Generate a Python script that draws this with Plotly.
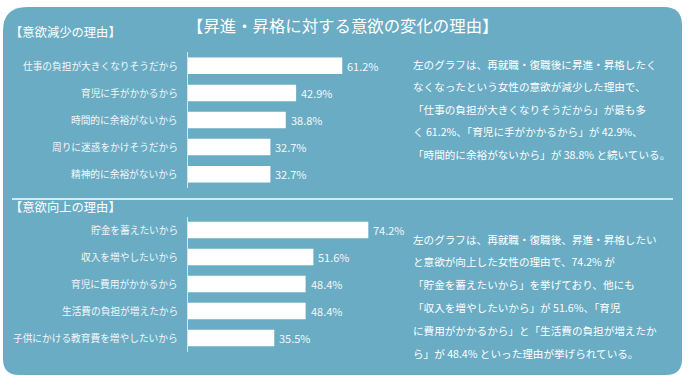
import plotly.graph_objects as go

W, H = 690, 386

# ---------------- data ----------------
title_text = "【昇進・昇格に対する意欲の変化の理由】"
dec_section = "【意欲減少の理由】"
inc_section = "【意欲向上の理由】"

dec_labels = ["仕事の負担が大きくなりそうだから", "育児に手がかかるから", "時間的に余裕がないから",
              "周りに迷惑をかけそうだから", "精神的に余裕がないから"]
dec_values = [61.2, 42.9, 38.8, 32.7, 32.7]

inc_labels = ["貯金を蓄えたいから", "収入を増やしたいから", "育児に費用がかかるから",
              "生活費の負担が増えたから", "子供にかける教育費を増やしたいから"]
inc_values = [74.2, 51.6, 48.4, 48.4, 35.5]

dec_text = ["左のグラフは、再就職・復職後に昇進・昇格したく",
            "なくなったという女性の意欲が減少した理由で、",
            "「仕事の負担が大きくなりそうだから」が最も多",
            "く 61.2%、「育児に手がかかるから」が 42.9%、",
            "「時間的に余裕がないから」が 38.8% と続いている。"]
inc_text = ["左のグラフは、再就職・復職後、昇進・昇格したい",
            "と意欲が向上した女性の理由で、74.2% が",
            "「貯金を蓄えたいから」を挙げており、他にも",
            "「収入を増やしたいから」が 51.6%、「育児",
            "に費用がかかるから」と「生活費の負担が増えたか",
            "ら」が 48.4% といった理由が挙げられている。"]

# ---------------- style ----------------
FONT = "Noto Sans CJK JP, Noto Sans, sans-serif"
PANEL = "#6aacc4"
TXT = "#ffffff"
LBL = "#f3f7f9"


def px(x):
    return x / W


def py(y):
    return 1 - y / H


fig = go.Figure()
fig.add_trace(go.Bar(x=dec_values, y=dec_labels, orientation="h", xaxis="x", yaxis="y",
                     marker=dict(color="white", line=dict(width=0)), width=0.61,
                     hoverinfo="skip", showlegend=False))
fig.add_trace(go.Bar(x=inc_values, y=inc_labels, orientation="h", xaxis="x2", yaxis="y2",
                     marker=dict(color="white", line=dict(width=0)), width=0.61,
                     hoverinfo="skip", showlegend=False))

axis_common = dict(showgrid=False, zeroline=False, showticklabels=False, ticks="", fixedrange=True)

# panel shape
L, T, R, B = 3, 7, 682, 375
rtl, rtr, rbr, rbl = 24, 18, 16, 16


def P(x, y):
    return f"{px(x):.5f},{py(y):.5f}"


path = (f"M{P(L + rtl, T)} L{P(R - rtr, T)} Q{P(R, T)} {P(R, T + rtr)} "
        f"L{P(R, B - rbr)} Q{P(R, B)} {P(R - rbr, B)} "
        f"L{P(L + rbl, B)} Q{P(L, B)} {P(L, B - rbl)} "
        f"L{P(L, T + rtl)} Q{P(L, T)} {P(L + rtl, T)} Z")

shapes = [
    dict(type="path", path=path, xref="paper", yref="paper", fillcolor=PANEL,
         line=dict(width=0), layer="below"),
    dict(type="line", xref="paper", yref="paper", x0=px(12), x1=px(673), y0=py(199), y1=py(199),
         line=dict(color="#d8eaf0", width=2), layer="below"),
]

annotations = []
annotations.append(dict(text=title_text, x=px(342), y=py(25), xref="paper", yref="paper",
                        showarrow=False, font=dict(family=FONT, size=16.4, color=TXT),
                        xanchor="center", yanchor="middle"))
annotations.append(dict(text=dec_section, x=px(8), y=py(32), xref="paper", yref="paper",
                        showarrow=False, font=dict(family=FONT, size=12.3, color=TXT),
                        xanchor="left", yanchor="middle"))
annotations.append(dict(text=inc_section, x=px(8), y=py(207), xref="paper", yref="paper",
                        showarrow=False, font=dict(family=FONT, size=12.3, color=TXT),
                        xanchor="left", yanchor="middle"))

for labels, values, xr, yr in [(dec_labels, dec_values, "x", "y"), (inc_labels, inc_values, "x2", "y2")]:
    for lab, v in zip(labels, values):
        annotations.append(dict(text=lab, x=px(180), xref="paper", y=lab, yref=yr,
                                showarrow=False, xanchor="right", yanchor="middle",
                                font=dict(family=FONT, size=9.7, color=LBL)))
        annotations.append(dict(text=f"{v}%", x=v, xref=xr, y=lab, yref=yr, xshift=3,
                                showarrow=False, xanchor="left", yanchor="middle",
                                font=dict(family=FONT, size=11, color=LBL)))

for i, line in enumerate(dec_text):
    annotations.append(dict(text=line, x=px(411), y=py(64 + 22.5 * i), xref="paper", yref="paper",
                            showarrow=False, xanchor="left", yanchor="middle",
                            font=dict(family=FONT, size=10.6, color=TXT)))
for i, line in enumerate(inc_text):
    annotations.append(dict(text=line, x=px(411), y=py(239 + 22.8 * i), xref="paper", yref="paper",
                            showarrow=False, xanchor="left", yanchor="middle",
                            font=dict(family=FONT, size=10.6, color=TXT)))

fig.update_layout(
    width=W, height=H,
    margin=dict(l=0, r=0, t=0, b=0),
    paper_bgcolor="white", plot_bgcolor="rgba(0,0,0,0)",
    bargap=0.39,
    xaxis=dict(domain=[px(188), px(400)], range=[0, 212 / 2.52], anchor="y", **axis_common),
    yaxis=dict(domain=[py(187.75), py(52.25)], range=[4.5, -0.5], anchor="x",
               categoryorder="array", categoryarray=dec_labels,
               showline=True, linecolor="#d3e5eb", linewidth=1, **axis_common),
    xaxis2=dict(domain=[px(188), px(400)], range=[0, 212 / 2.43], anchor="y2", **axis_common),
    yaxis2=dict(domain=[py(351.5), py(216.5)], range=[4.5, -0.5], anchor="x2",
                categoryorder="array", categoryarray=inc_labels,
                showline=True, linecolor="#d3e5eb", linewidth=1, **axis_common),
    shapes=shapes,
    annotations=annotations,
    font=dict(family=FONT),
)

fig.write_html("out.html", config={"displayModeBar": False},
               post_script="document.body.style.margin='0';document.body.style.overflow='hidden';")
